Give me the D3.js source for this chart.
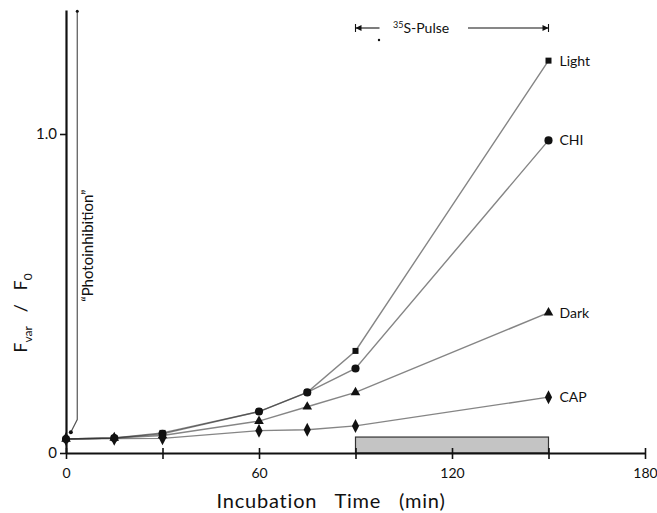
<!DOCTYPE html>
<html>
<head>
<meta charset="utf-8">
<script src="https://cdn.jsdelivr.net/npm/d3@7"></script>
<style>
  body { margin: 0; background: #fff; }
  svg { display: block; }
  text { font-family: Lato, "Open Sans", sans-serif; fill: #111; }
</style>
</head>
<body>
<svg></svg>
<script>
// incubation times (min)
const times = [0, 15, 30, 60, 75, 90, 150];
// Fvar / F0 per treatment
const light = [0.044, 0.047, 0.063, 0.13, 0.19, 0.32, 1.23];
const chi   = [0.044, 0.047, 0.060, 0.13, 0.19, 0.265, 0.98];
const dark  = [0.044, 0.047, 0.055, 0.10, 0.145, 0.19, 0.44];
const cap   = [0.044, 0.045, 0.046, 0.07, 0.073, 0.085, 0.175];
const seriesNames = ['Light', 'CHI', 'Dark', 'CAP'];
const xTicks = [0, 30, 60, 90, 120, 150, 180];
const xLabels = [0, 60, 120, 180];
const yTicks = [0, 1.0];
const pulse = [90, 150];
// "photoinhibition" trace: off-scale drop back to the start value
const photoX = [3.5, 3.5, 1.5];
const photoY = [1.385, 0.105, 0.065];

const width = 657, height = 513;
const svg = d3.select('svg').attr('width', width).attr('height', height);

const x = d3.scaleLinear().domain([0, 180]).range([66, 645]);
const y = d3.scaleLinear().domain([0, 1]).range([453, 134]);
const yTop = y.invert(10);
const nb = '\u00A0';

const series = [light, chi, dark, cap].map((vals, i) => ({
  name: seriesNames[i],
  points: times.map((t, j) => ({t: t, v: vals[j]}))
}));

// pulse bar
svg.append('rect')
  .attr('x', x(pulse[0])).attr('y', y(0.05))
  .attr('width', x(pulse[1]) - x(pulse[0]))
  .attr('height', y(0) - y(0.05))
  .attr('fill', '#c4c4c4').attr('stroke', '#333').attr('stroke-width', 1.2);

// lines
const line = d3.line().x(d => x(d.t)).y(d => y(d.v));
svg.selectAll('path.series')
  .data(series)
  .enter()
  .append('path')
  .attr('class', 'series')
  .attr('d', d => line(d.points))
  .attr('fill', 'none')
  .attr('stroke', '#333')
  .attr('stroke-opacity', 0.6)
  .attr('stroke-width', 1.4);

// markers
const shapes = {
  Light: d3.symbol().type(d3.symbolSquare).size(36)(),
  CHI: d3.symbol().type(d3.symbolCircle).size(52)(),
  Dark: d3.symbol().type(d3.symbolTriangle).size(40)(),
  CAP: 'M0,-7L3.6,0L0,7L-3.6,0Z'
};
series.forEach(s => {
  svg.selectAll(null)
    .data(s.points)
    .enter()
    .append('path')
    .attr('d', shapes[s.name])
    .attr('transform', d => `translate(${x(d.t)},${y(d.v)})`)
    .attr('fill', '#111');

  const last = s.points[s.points.length - 1];
  svg.append('text')
    .attr('x', x(last.t) + 11)
    .attr('y', y(last.v))
    .attr('dy', '0.35em')
    .attr('font-size', 14)
    .text(s.name);
});

// photoinhibition trace
svg.append('path')
  .attr('d', d3.line().x(d => x(d[0])).y(d => y(d[1]))(photoX.map((v, i) => [v, photoY[i]])))
  .attr('fill', 'none').attr('stroke', '#555').attr('stroke-width', 1.2);
svg.append('circle').attr('cx', x(photoX[2])).attr('cy', y(photoY[2])).attr('r', 2).attr('fill', '#111');
svg.append('circle').attr('cx', x(photoX[0])).attr('cy', y(photoY[0])).attr('r', 1.5).attr('fill', '#111');
svg.append('text')
  .attr('transform', `translate(${x(photoX[0]) + 16},${y(0.65)}) rotate(-90)`)
  .attr('text-anchor', 'middle')
  .attr('font-size', 15)
  .text('\u201CPhotoinhibition\u201D');

// x axis
const xAxis = svg.append('g')
  .attr('transform', `translate(0,${y(0)})`)
  .call(d3.axisBottom(x).tickValues(xTicks).tickSize(6).tickSizeOuter(0)
    .tickFormat(d => xLabels.includes(d) ? d : ''));
xAxis.select('.domain').attr('stroke', '#111').attr('stroke-width', 2);
xAxis.selectAll('.tick line').attr('y1', -5).attr('stroke', '#111').attr('stroke-width', 1.6);
xAxis.selectAll('.tick text').attr('font-size', 14).attr('font-family', 'Lato, sans-serif').attr('dy', '1.15em').attr('fill', '#111');

// y axis
const yAxis = svg.append('g')
  .attr('transform', `translate(${x(0)},0)`)
  .call(d3.axisLeft(y.copy().domain([0, yTop]).range([453, 10])).tickValues(yTicks).tickSize(6).tickSizeOuter(0)
    .tickFormat(d => d === 0 ? '0' : d3.format('.1f')(d)));
yAxis.select('.domain').attr('stroke', '#111').attr('stroke-width', 2.2);
yAxis.selectAll('.tick line').attr('stroke', '#111').attr('stroke-width', 1.6);
yAxis.selectAll('.tick text').attr('font-size', 15).attr('font-family', 'Lato, sans-serif').attr('fill', '#111');

// axis titles
svg.append('text')
  .attr('x', 331).attr('y', 508)
  .attr('text-anchor', 'middle')
  .attr('font-size', 20)
  .attr('letter-spacing', 0.8)
  .text(`Incubation${nb}${nb} Time${nb}${nb} (min)`);

const yt = svg.append('text')
  .attr('transform', 'translate(27,313) rotate(-90)')
  .attr('text-anchor', 'middle')
  .attr('font-size', 18);
yt.append('tspan').text('F');
yt.append('tspan').attr('font-size', 12).attr('dy', 5).text('var');
yt.append('tspan').attr('dy', -5).text(`${nb}${nb} /${nb}${nb} F`);
yt.append('tspan').attr('font-size', 12).attr('dy', 5).text('0');

// 35S pulse annotation
const py = 28;
const pg = svg.append('g').attr('stroke', '#111').attr('stroke-width', 1.1);
pg.append('line').attr('x1', x(pulse[0])).attr('x2', x(pulse[0])).attr('y1', py - 4).attr('y2', py + 4);
pg.append('line').attr('x1', x(pulse[1])).attr('x2', x(pulse[1])).attr('y1', py - 4).attr('y2', py + 4);
pg.append('line').attr('x1', x(pulse[0])).attr('x2', x(pulse[0]) + 24).attr('y1', py).attr('y2', py);
pg.append('line').attr('x1', 468).attr('x2', x(pulse[1])).attr('y1', py).attr('y2', py);
svg.append('path').attr('d', `M${x(pulse[0])},${py}l6,-3v6z`).attr('fill', '#111');
svg.append('path').attr('d', `M${x(pulse[1])},${py}l-6,-3v6z`).attr('fill', '#111');
svg.append('circle').attr('cx', 379).attr('cy', 40).attr('r', 1.2).attr('fill', '#111');
const pt = svg.append('text').attr('x', 393).attr('y', py + 5).attr('font-size', 14);
pt.append('tspan').attr('font-size', 9).attr('dy', -5).text('35');
pt.append('tspan').attr('dy', 5).text('S-Pulse');
</script>
</body>
</html>
